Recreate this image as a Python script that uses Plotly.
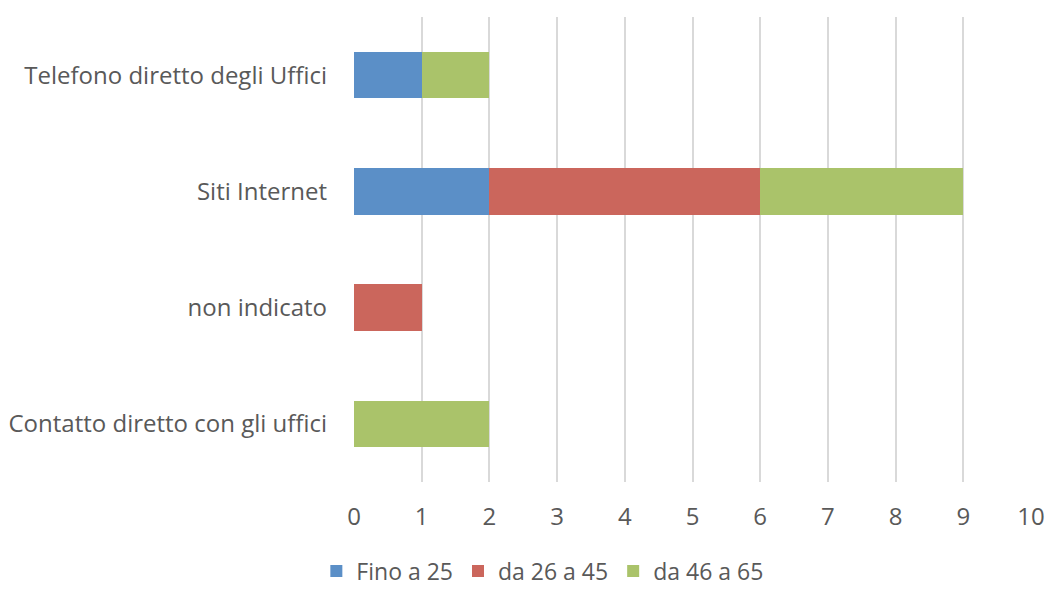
import plotly.graph_objects as go

categories = ["Contatto diretto con gli uffici", "non indicato", "Siti Internet", "Telefono diretto degli Uffici"]
series_names = ["Fino a 25", "da 26 a 45", "da 46 a 65"]
fino_25 = [0, 0, 2, 1]
da_26_45 = [0, 1, 4, 0]
da_46_65 = [2, 0, 3, 1]
x_ticks = [0, 1, 2, 3, 4, 5, 6, 7, 8, 9, 10]

colors = ["#5B8FC7", "#CB665C", "#AAC36A"]
values = [fino_25, da_26_45, da_46_65]

fig = go.Figure()
for name, vals, col in zip(series_names, values, colors):
    fig.add_trace(go.Bar(
        y=categories, x=vals, name=name, orientation="h",
        marker=dict(color=col, line=dict(width=0)),
    ))

font_fam = "'Open Sans', sans-serif"
text_col = "#595959"
fig.update_layout(
    barmode="stack",
    bargap=0.6,
    width=1047, height=595,
    margin=dict(l=354, r=16, t=17, b=113, autoexpand=False),
    plot_bgcolor="white", paper_bgcolor="white",
    font=dict(family=font_fam, size=24, color=text_col),
    xaxis=dict(
        range=[0, 10], tickvals=x_ticks, showgrid=True, gridcolor="#D9D9D9",
        gridwidth=2, zeroline=False, ticks="", automargin=False,
        tickfont=dict(size=24, color=text_col), showline=False,
        ticklabelstandoff=18, tickangle=0,
    ),
    yaxis=dict(
        showgrid=False, zeroline=False, ticks="", showline=False, automargin=False,
        tickfont=dict(size=24, color=text_col), ticklabelstandoff=26,
    ),
    legend=dict(
        orientation="h", x=0.518, xanchor="center", xref="container",
        y=0.004, yanchor="bottom", yref="container",
        font=dict(size=23, color=text_col), traceorder="normal",
    ),
)

fig.write_html("out.html")
